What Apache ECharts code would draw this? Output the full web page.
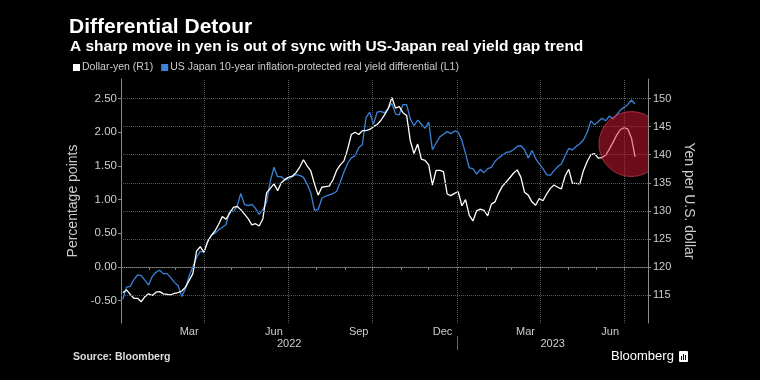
<!DOCTYPE html>
<html><head><meta charset="utf-8">
<script src="https://cdn.jsdelivr.net/npm/echarts@6/dist/echarts.min.js"></script>
<style>html,body{margin:0;padding:0;background:#000;}#c{width:760px;height:380px;}</style>
</head><body><div id="c"></div>
<script>
// ---- data ----
const seriesStart = '2022-01-03';
const stepDays = 4;
const dollarYen = [
  115.4,115.9,115.1,114.4,114.4,113.8,114.7,115.2,114.9,115.5,
  115.6,115.2,115.1,115.0,115.3,115.4,115.7,116.4,117.6,118.8,
  122.8,123.6,122.6,124.5,125.6,126.4,127.6,129.0,128.5,129.6,
  130.6,130.8,130.2,129.4,128.6,127.5,127.7,127.3,128.6,133.2,
  134.0,134.8,133.6,135.0,135.6,136.0,136.2,136.8,137.8,139.1,
  138.0,137.1,134.8,132.8,134.2,134.3,134.4,135.5,137.2,138.2,
  138.9,141.0,143.6,144.0,143.6,144.3,144.3,144.5,145.0,145.4,
  146.1,147.1,148.2,150.2,148.3,148.6,147.5,147.0,142.5,140.2,
  141.9,139.2,139.0,138.2,134.6,137.2,137.2,137.0,133.0,132.7,
  133.1,133.4,130.9,132.0,129.2,128.2,130.0,130.3,130.1,129.1,
  131.2,131.6,133.2,134.4,135.1,135.9,136.7,137.3,136.0,133.3,
  132.8,131.6,131.0,132.2,131.8,133.0,134.0,134.6,134.2,133.9,
  136.2,137.4,134.9,134.9,134.8,137.2,138.8,140.0,140.2,139.4,
  139.5,139.9,141.0,142.2,143.5,144.5,144.8,144.6,143.0,139.6];
const realYieldGap = [
  -0.48,-0.30,-0.29,-0.19,-0.12,-0.13,-0.20,-0.27,-0.14,-0.08,
  -0.05,-0.10,-0.10,-0.16,-0.23,-0.28,-0.44,-0.32,-0.13,0.00,
  0.14,0.23,0.22,0.37,0.47,0.50,0.55,0.59,0.63,0.83,
  0.82,0.90,1.09,0.93,0.91,0.93,0.87,0.78,0.85,0.96,
  1.27,1.48,1.34,1.34,1.29,1.31,1.34,1.37,1.36,1.33,
  1.23,1.10,0.84,0.85,1.02,1.05,1.07,1.09,1.12,1.26,
  1.41,1.54,1.62,1.65,1.77,1.82,2.22,2.30,2.12,2.30,
  2.31,2.29,2.36,2.43,2.27,2.26,2.41,2.41,2.20,2.10,
  2.18,2.12,2.06,2.15,1.74,1.84,1.93,1.97,2.01,1.98,
  2.02,2.00,1.88,1.68,1.47,1.46,1.38,1.45,1.40,1.46,
  1.48,1.57,1.62,1.66,1.70,1.71,1.74,1.79,1.80,1.74,
  1.62,1.73,1.61,1.53,1.46,1.37,1.36,1.43,1.49,1.53,
  1.65,1.76,1.74,1.79,1.83,1.89,2.00,2.17,2.11,2.16,
  2.21,2.17,2.24,2.20,2.26,2.33,2.37,2.41,2.48,2.42];
const xStart = '2022-01-01';
const xEnd = '2023-07-27';
const monthLabelDates = ['2022-03-16','2022-06-16','2022-09-16','2022-12-16','2023-03-16','2023-06-16'];
const monthLabelText = ['Mar','Jun','Sep','Dec','Mar','Jun'];
const years = ['2022','2023'];
const yearStarts = ['2022-01-01','2023-01-01'];
const quarterLines = ['2022-04-01','2022-07-01','2022-10-01','2023-01-01','2023-04-01','2023-07-01'];
const leftTicks = [-0.5,0,0.5,1,1.5,2,2.5];
const rightTicks = [115,120,125,130,135,140,145,150];
const rightMin = 110, rightMax = 153.5;
const yenPerPoint = 12, yenAtZero = 120;
const highlightDate = '2023-07-09', highlightYen = 141.9;

// ---- build ----
const DAY = 86400000;
const ts = s => Date.parse(s + 'T00:00:00Z');
const n = dollarYen.length;
const dates = [];
for (let i = 0; i < n; i++) dates.push(ts(seriesStart) + i * stepDays * DAY);
const tMin = ts(xStart), tMax = ts(xEnd);
const monthStarts = [];
for (let y = 2022, m = 0; y < 2023 || m <= 6; ) {
  monthStarts.push(Date.UTC(y, m, 1));
  m++; if (m > 11) { m = 0; y++; }
}
const labelMap = new Map();
monthLabelDates.forEach((d, i) => labelMap.set(ts(d), monthLabelText[i]));
const yearCenters = [ (ts(yearStarts[0]) + ts(yearStarts[1])) / 2, (ts(yearStarts[1]) + tMax) / 2 ];
const yearMap = new Map(); yearCenters.forEach((v, i) => yearMap.set(v, years[i]));

const FONT = 'Liberation Sans';
const chart = echarts.init(document.getElementById('c'), null, {renderer: 'canvas'});
chart.setOption({
  backgroundColor: '#000',
  animation: false,
  textStyle: {fontFamily: FONT},
  title: [
    {text: 'Differential Detour', left: 69, top: 17, padding: 0,
     textStyle: {color: '#fff', fontSize: 21, fontWeight: 'bold', fontFamily: FONT}},
    {text: 'A sharp move in yen is out of sync with US-Japan real yield gap trend', left: 70, top: 39, padding: 0,
     textStyle: {color: '#fff', fontSize: 15.5, fontWeight: 'bold', fontFamily: FONT}},
    {text: 'Source: Bloomberg', left: 73, top: 352, padding: 0,
     textStyle: {color: '#ddd', fontSize: 10.5, fontWeight: 'bold', fontFamily: FONT}},
    {text: 'Bloomberg', left: 611, top: 350, padding: 0,
     textStyle: {color: '#fff', fontSize: 13, fontWeight: 'normal', fontFamily: FONT}}
  ],
  graphic: [
    {type: 'rect', left: 679, top: 351, shape: {width: 9, height: 11, r: 1}, style: {fill: '#fff'}},
    {type: 'rect', left: 681, top: 356, shape: {width: 1, height: 4}, style: {fill: '#000'}},
    {type: 'rect', left: 683, top: 354, shape: {width: 1, height: 6}, style: {fill: '#000'}},
    {type: 'rect', left: 685, top: 355, shape: {width: 1, height: 5}, style: {fill: '#000'}}
  ],
  legend: {
    data: ['Dollar-yen (R1)', 'US Japan 10-year inflation-protected real yield differential (L1)'],
    left: 73, top: 62, padding: 0, icon: 'rect', itemWidth: 7, itemHeight: 7, itemGap: 8,
    textStyle: {color: '#ccc', fontSize: 10.5, fontFamily: FONT, padding: [0, 0, 0, -3]}
  },
  grid: {left: 121, right: 112, top: 79, bottom: 57, containLabel: false},
  xAxis: [
    {type: 'value', min: tMin, max: tMax, position: 'bottom',
     axisLine: {show: true, lineStyle: {color: '#8a8a8a', width: 1}},
     axisTick: {show: true, customValues: monthStarts, length: 3, lineStyle: {color: '#8a8a8a'}},
     axisLabel: {show: true, customValues: monthLabelDates.map(ts), formatter: v => labelMap.get(v) || '',
                 color: '#ccc', fontSize: 11, margin: 3, fontFamily: FONT},
     splitLine: {show: false}},
    {type: 'value', min: tMin, max: tMax, position: 'bottom', offset: 13,
     axisLine: {show: false},
     axisTick: {show: true, customValues: [ts(yearStarts[1])], length: 14, lineStyle: {color: '#666'}},
     axisLabel: {show: true, customValues: yearCenters, formatter: v => yearMap.get(v) || '',
                 color: '#ccc', fontSize: 11, margin: 2, fontFamily: FONT},
     splitLine: {show: false}}
  ],
  yAxis: [
    {type: 'value', position: 'left',
     min: (rightMin - yenAtZero) / yenPerPoint, max: (rightMax - yenAtZero) / yenPerPoint,
     axisLine: {show: true, lineStyle: {color: '#8a8a8a'}},
     axisTick: {show: true, customValues: leftTicks, length: 3, lineStyle: {color: '#8a8a8a'}},
     axisLabel: {show: true, customValues: leftTicks, formatter: v => v.toFixed(2),
                 color: '#ccc', fontSize: 11.5, margin: 4, fontFamily: FONT},
     splitLine: {show: false},
     name: 'Percentage points', nameLocation: 'middle', nameRotate: 90, nameGap: 36,
     nameTextStyle: {color: '#ccc', fontSize: 14, fontFamily: FONT}},
    {type: 'value', position: 'right', min: rightMin, max: rightMax,
     axisLine: {show: true, lineStyle: {color: '#8a8a8a'}},
     axisTick: {show: true, customValues: rightTicks, length: 3, lineStyle: {color: '#8a8a8a'}},
     axisLabel: {show: true, customValues: rightTicks, color: '#ccc', fontSize: 11, margin: 5, fontFamily: FONT},
     splitLine: {show: false},
     name: 'Yen per U.S. dollar', nameLocation: 'middle', nameRotate: -90, nameGap: 23,
     nameTextStyle: {color: '#ccc', fontSize: 14, fontFamily: FONT}}
  ],
  series: [
    {name: 'gridlines', type: 'line', xAxisIndex: 0, yAxisIndex: 1, data: [], z: 1, silent: true,
     markLine: {silent: true, symbol: 'none', label: {show: false}, animation: false,
       lineStyle: {color: '#555', type: 'dotted', width: 1},
       data: rightTicks.map(v => ({yAxis: v})).concat(quarterLines.map(d => ({xAxis: ts(d)})))}},
    {name: 'US Japan 10-year inflation-protected real yield differential (L1)', type: 'line',
     xAxisIndex: 0, yAxisIndex: 0, z: 3, showSymbol: false, symbol: 'none',
     color: '#3b82d9', lineStyle: {color: '#3b82d9', width: 1.3},
     data: realYieldGap.map((v, i) => [dates[i], v])},
    {name: 'Dollar-yen (R1)', type: 'line', xAxisIndex: 0, yAxisIndex: 1, z: 4, showSymbol: false, symbol: 'none',
     color: '#ffffff', lineStyle: {color: '#ffffff', width: 1.3},
     data: dollarYen.map((v, i) => [dates[i], v])},
    {name: 'highlight', type: 'custom', xAxisIndex: 0, yAxisIndex: 1, z: 10, silent: true, clip: true,
     data: [[ts(highlightDate), highlightYen]],
     renderItem: (params, api) => {
       const p = api.coord([api.value(0), api.value(1)]);
       return {type: 'circle', shape: {cx: p[0], cy: p[1], r: 32.5},
               style: {fill: 'rgba(215,25,50,0.5)', stroke: 'rgba(235,70,90,0.6)', lineWidth: 1}};
     }}
  ]
});
</script></body></html>
